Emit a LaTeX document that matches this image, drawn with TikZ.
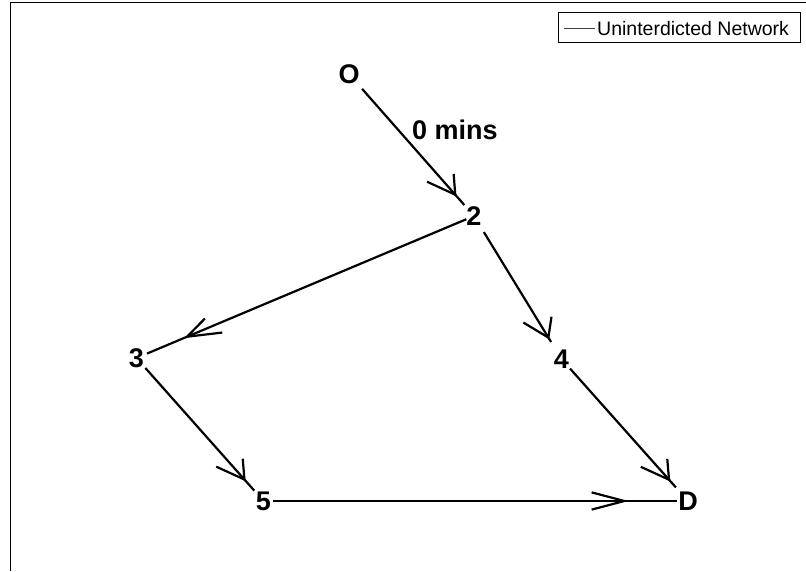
\documentclass[tikz,border=0pt]{standalone}
\usepackage{fontspec}
\setmainfont{Liberation Sans}
\usetikzlibrary{calc}
\tikzset{
  lbl/.style={inner sep=0pt, font=\bfseries\fontsize{27}{32}\selectfont},
  edge/.style={line width=2.2pt, black},
  frameline/.style={line width=1pt, black},
  legendbox/.style={line width=1pt, black},
  legendline/.style={line width=0.9pt, black!75},
  legendtext/.style={inner sep=0pt, anchor=base west, font=\fontsize{19.5}{23}\selectfont},
}
% open V head, drawn in a frame whose y axis is squeezed by 0.58
\newcommand{\mhead}[2]{%
  \draw[edge] let \p1=($(#2.center)-(#1.center)$),
                  \p2=($(#1.center)!0.85!(#2.center)$),
                  \n1={veclen(\x1,\y1/0.58)},
                  \n2={\x1/\n1}, \n3={(\y1/0.58)/\n1} in
    ($(\p2)+({-32.7*(\n2)-14.9*(\n3)},{0.58*(-32.7*(\n3)+14.9*(\n2))})$) -- (\p2)
    -- ($(\p2)+({-32.7*(\n2)+14.9*(\n3)},{0.58*(-32.7*(\n3)-14.9*(\n2))})$);}
\begin{document}
\begin{tikzpicture}[x=1pt,y=1pt]
\useasboundingbox (0,0) rectangle (806,571);
% axes frame (cropped)
\coordinate (fb) at (10,0);
\coordinate (fc) at (10,568.5);
\coordinate (fr) at (806,568.5);
\draw[frameline] (fb) -- (fc) -- (fr);
% legend
\coordinate (lb1) at (558,558);
\coordinate (lb2) at (800,528);
\draw[legendbox] (lb1) rectangle (lb2);
\coordinate (la) at (564,543);
\coordinate (lz) at (595,543);
\draw[legendline] (la) -- (lz);
\node[legendtext] (legtext) at (597,535) {Uninterdicted Network};
% nodes
\node[lbl] (O)  at (349,497) {O};
\node[lbl] (n2) at (474,355) {2};
\node[lbl] (n3) at (136.5,213) {3};
\node[lbl] (n4) at (561.5,212) {4};
\node[lbl] (n5) at (263.5,70) {5};
\node[lbl] (D)  at (688,70) {D};
\node[lbl, anchor=base west] (lab02) at (412,431.5) {0 mins};
% edges
\draw[edge, shorten <=19.8pt, shorten >=14.6pt] (O.center) -- (n2.center);
\draw[edge, shorten <=8.3pt, shorten >=11.4pt] (n2.center) -- (n3.center);
\draw[edge, shorten <=18.9pt, shorten >=19.9pt] (n2.center) -- (n4.center);
\draw[edge, shorten <=12.8pt, shorten >=18.2pt] (n4.center) -- (D.center);
\draw[edge, shorten <=13.4pt, shorten >=13.9pt] (n3.center) -- (n5.center);
\draw[edge, shorten <=9.5pt, shorten >=11.3pt] (n5.center) -- (D.center);
% arrow heads
\mhead{O}{n2}
\mhead{n2}{n3}
\mhead{n2}{n4}
\mhead{n4}{D}
\mhead{n3}{n5}
\mhead{n5}{D}
\end{tikzpicture}
\end{document}
